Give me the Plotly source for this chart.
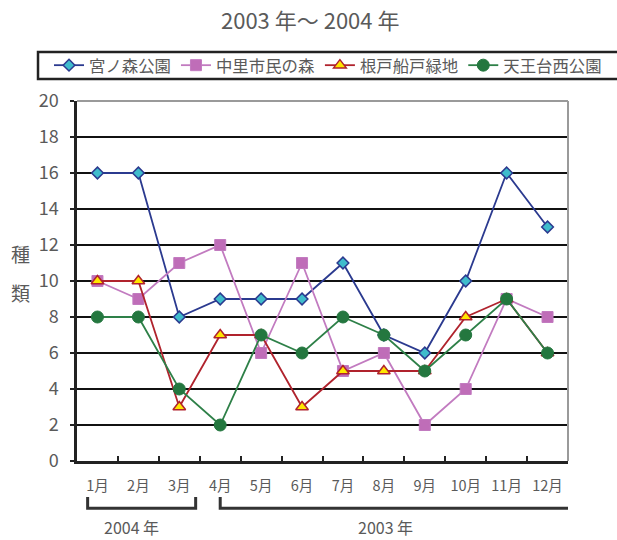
import plotly.graph_objects as go

months = ["1月", "2月", "3月", "4月", "5月", "6月", "7月", "8月", "9月", "10月", "11月", "12月"]
miyanomori = [16, 16, 8, 9, 9, 9, 11, 7, 6, 10, 16, 13]
nakasato = [10, 9, 11, 12, 6, 11, 5, 6, 2, 4, 9, 8]
netohunato = [10, 10, 3, 7, 7, 3, 5, 5, 5, 8, 9, 6]
tennoudai = [8, 8, 4, 2, 7, 6, 8, 7, 5, 7, 9, 6]
y_ticks = [0, 2, 4, 6, 8, 10, 12, 14, 16, 18, 20]

FONT = "Noto Sans CJK JP"
GRAY = "#5a5a5a"

fig = go.Figure()
series = [
    ("宮ノ森公園", miyanomori, "#2b3a8f", dict(symbol="diamond", size=9, color="#3fbccc",
                                            line=dict(color="#2b3a8f", width=1.5))),
    ("中里市民の森", nakasato, "#c27bc0", dict(symbol="square", size=11, color="#bf6db8",
                                             line=dict(color="#c27bc0", width=1))),
    ("根戸船戸緑地", netohunato, "#b0232d", dict(symbol="triangle-up", size=11, color="#ffe600",
                                              line=dict(color="#b0232d", width=1.5))),
    ("天王台西公園", tennoudai, "#2e8048", dict(symbol="circle", size=12, color="#24773f",
                                             line=dict(color="#24773f", width=1))),
]
for name, vals, lc, mk in series:
    fig.add_trace(go.Scatter(x=months, y=vals, name=name, mode="lines+markers",
                             line=dict(color=lc, width=1.8), marker=mk))

# gray frame on top and right of the plot area
fig.add_shape(type="line", xref="paper", yref="paper", x0=0, x1=1, y0=1, y1=1,
              line=dict(color="#9a9a9a", width=2))
fig.add_shape(type="line", xref="paper", yref="paper", x0=1, x1=1, y0=0, y1=1,
              line=dict(color="#9a9a9a", width=2))

# legend frame (runs past the right edge)
fig.add_shape(type="rect", xref="paper", yref="paper", x0=-0.0794, x1=1.13, y0=1.061, y1=1.136,
              line=dict(color="#222222", width=2.5), fillcolor="rgba(0,0,0,0)")

# year brackets under the month labels
for x0, x1 in [(-0.24, 2.40), (3.0, 11.56)]:
    fig.add_shape(type="path", xref="x", yref="paper",
                  path=f"M {x0},-0.1 L {x0},-0.131 L {x1},-0.131 L {x1},-0.1",
                  line=dict(color="#333333", width=3))
for xc, label in [(0.83, "2004 年"), (7.04, "2003 年")]:
    fig.add_annotation(x=xc, y=-0.183, xref="x", yref="paper", text=label, showarrow=False,
                       yanchor="middle", font=dict(family=FONT, size=16, color=GRAY))

# vertical axis title, one character per line
for yc, ch in [(253, "種"), (292, "類")]:
    fig.add_annotation(x=-0.116, y=(461 - yc) / 360, xref="paper", yref="paper", text=ch,
                       showarrow=False, xanchor="center", yanchor="middle",
                       font=dict(family=FONT, size=19, color=GRAY))

fig.update_layout(
    width=617, height=540,
    margin=dict(l=77, r=49, t=101, b=79),
    paper_bgcolor="white", plot_bgcolor="white",
    title=dict(text="2003 年～ 2004 年", x=0.475, xref="paper", xanchor="center",
               y=1 - 21 / 540, yanchor="middle",
               font=dict(family=FONT, size=22, color=GRAY)),
    font=dict(family=FONT, color=GRAY),
    showlegend=True,
    legend=dict(orientation="h", x=-0.057, xanchor="left", y=1.0986, yanchor="middle",
                borderwidth=0, bgcolor="rgba(0,0,0,0)",
                font=dict(family=FONT, size=16.4, color=GRAY),
                itemwidth=30, tracegroupgap=0),
    xaxis=dict(type="category", categoryorder="array", categoryarray=months,
               showline=True, linecolor="#222222", linewidth=2.5, showgrid=False,
               ticks="inside", ticklen=5, tickcolor="#222222", tickwidth=1.5,
               tickson="boundaries", ticklabelstandoff=10, tickangle=0,
               tickfont=dict(family=FONT, size=14.5, color=GRAY), range=[-0.5, 11.5], fixedrange=True),
    yaxis=dict(range=[0, 20], tickvals=y_ticks, showline=True, linecolor="#222222", linewidth=2.5,
               showgrid=True, gridcolor="#111111", gridwidth=2, zeroline=False,
               ticks="outside", ticklen=4, tickcolor="#222222", tickwidth=2,
               ticklabelstandoff=8, tickfont=dict(family=FONT, size=18, color=GRAY)),
)

fig.write_html("out.html")
